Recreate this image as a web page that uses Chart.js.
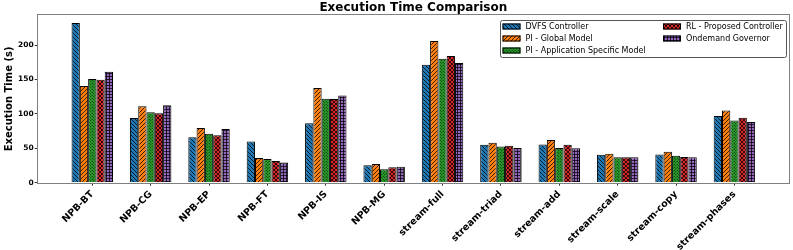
<!DOCTYPE html>
<html>
<head>
<meta charset="utf-8">
<title>Execution Time Comparison</title>
<script src="https://cdn.jsdelivr.net/npm/chart.js@4.4.1/dist/chart.umd.min.js"></script>
<style>
  html, body { margin: 0; padding: 0; background: #fff; }
  #wrap { width: 793px; height: 250px; }
</style>
</head>
<body>
<div id="wrap"><canvas id="execChart" width="793" height="250"></canvas></div>
<script>
// --- Data ---
const categories = ['NPB-BT', 'NPB-CG', 'NPB-EP', 'NPB-FT', 'NPB-IS', 'NPB-MG',
    'stream-full', 'stream-triad', 'stream-add', 'stream-scale', 'stream-copy', 'stream-phases'];
const seriesNames = ['DVFS Controller', 'PI - Global Model', 'PI - Application Specific Model',
    'RL - Proposed Controller', 'Ondemand Governor'];
const dvfs     = [232, 94, 66, 60, 86.5, 25.5, 171.5, 55, 55.5, 40.5, 41, 97];
const piGlobal = [140.5, 111, 79.5, 36, 137.5, 27, 206, 58, 62, 42, 45, 105];
const piApp    = [150.5, 102.5, 71, 34.5, 122, 19.5, 180, 52.5, 50.5, 37, 39, 90.5];
const rl       = [149.5, 101, 69, 31.5, 121.5, 22.5, 184, 53.5, 55, 37, 37.5, 94.5];
const ondemand = [161, 112.5, 78, 29.5, 126.5, 23, 174, 50.5, 50, 37, 37, 88];
const yTicks = [0, 50, 100, 150, 200];

const colors = ['#1f77b4', '#ff7f0e', '#2ca02c', '#d62728', '#9467bd'];
const hatches = ['back', 'fwd', 'dots', 'cross', 'grid'];

// --- Hatch patterns ---
function makePattern(color, kind) {
    const s = kind === 'dots' || kind === 'grid' ? 3 : 4;
    const c = document.createElement('canvas');
    c.width = s; c.height = s;
    const g = c.getContext('2d');
    g.fillStyle = color;
    g.fillRect(0, 0, s, s);
    g.strokeStyle = '#000';
    g.fillStyle = '#000';
    g.lineWidth = 0.75;
    const line = (x1, y1, x2, y2) => { g.beginPath(); g.moveTo(x1, y1); g.lineTo(x2, y2); g.stroke(); };
    if (kind === 'back' || kind === 'cross') {
        line(-1, -1, s + 1, s + 1);
        line(-1, s - 1, 1, s + 1);
        line(s - 1, -1, s + 1, 1);
    }
    if (kind === 'fwd' || kind === 'cross') {
        line(-1, s + 1, s + 1, -1);
        line(-1, 1, 1, -1);
        line(s - 1, s + 1, s + 1, s - 1);
    }
    if (kind === 'dots') {
        g.beginPath(); g.arc(0.75, 0.75, 0.55, 0, Math.PI * 2); g.fill();
        g.beginPath(); g.arc(2.25, 2.25, 0.55, 0, Math.PI * 2); g.fill();
    }
    if (kind === 'grid') {
        line(0, 1.5, s, 1.5);
        line(1.5, 0, 1.5, s);
    }
    return g.createPattern(c, 'repeat');
}

document.addEventListener('DOMContentLoaded', () => {
    const patterns = colors.map((col, i) => makePattern(col, hatches[i]));
    const values = [dvfs, piGlobal, piApp, rl, ondemand];

    // --- Title drawn over the plot area ---
    const titlePlugin = {
        id: 'plotTitle',
        afterDraw(chart) {
            const { ctx, chartArea } = chart;
            ctx.save();
            ctx.font = 'bold 12px "DejaVu Sans"';
            ctx.fillStyle = '#000';
            ctx.textAlign = 'center';
            ctx.textBaseline = 'middle';
            ctx.fillText('Execution Time Comparison', (chartArea.left + chartArea.right) / 2, 8);
            ctx.restore();
        }
    };

    // --- Frame round the plot ---
    const framePlugin = {
        id: 'frame',
        afterDatasetsDraw(chart) {
            const { ctx, chartArea: a } = chart;
            ctx.save();
            ctx.strokeStyle = '#808080';
            ctx.lineWidth = 1;
            ctx.strokeRect(Math.round(a.left) - 0.5, Math.round(a.top) - 0.5,
                Math.round(a.right - a.left) + 1, Math.round(a.bottom - a.top) + 1);
            ctx.restore();
        }
    };

    // --- Two column legend ---
    const legendPlugin = {
        id: 'boxLegend',
        afterDraw(chart) {
            const { ctx, chartArea: a } = chart;
            const w = 286, h = 37;
            const x = a.right - 3 - w, y = a.top + 5;
            ctx.save();
            ctx.fillStyle = 'rgba(255,255,255,0.9)';
            ctx.strokeStyle = '#555';
            ctx.lineWidth = 1;
            ctx.beginPath();
            ctx.roundRect(x + 0.5, y + 0.5, w, h, 2);
            ctx.fill();
            ctx.stroke();
            ctx.font = '8px "DejaVu Sans"';
            ctx.textBaseline = 'middle';
            ctx.textAlign = 'left';
            const colX = [x + 2.5, x + 163];
            chart.data.datasets.forEach((ds, i) => {
                const px = colX[Math.floor(i / 3)];
                const cy = y + 6.5 + (i % 3) * 12;
                ctx.fillStyle = ds.backgroundColor;
                ctx.fillRect(px, cy - 3, 18, 6);
                ctx.strokeStyle = '#000';
                ctx.strokeRect(px + 0.5, cy - 2.5, 17, 5);
                ctx.fillStyle = '#000';
                ctx.fillText(ds.label, px + 23, cy);
            });
            ctx.restore();
        }
    };

    const ctx = document.getElementById('execChart');
    new Chart(ctx, {
        type: 'bar',
        data: {
            datasets: seriesNames.map((name, i) => ({
                label: name,
                data: values[i].map((v, k) => ({ x: k, y: v })),
                backgroundColor: patterns[i],
                borderColor: '#000',
                borderWidth: 1,
                categoryPercentage: 0.71,
                barPercentage: 1
            }))
        },
        options: {
            responsive: false,
            animation: false,
            layout: { padding: { top: 15, right: 4, left: 0, bottom: 0 } },
            plugins: {
                legend: { display: false },
                title: { display: false },
                tooltip: { enabled: false }
            },
            scales: {
                x: {
                    type: 'linear',
                    bounds: 'data',
                    offset: false,
                    min: -0.935,
                    max: 11.935,
                    afterBuildTicks: (scale) => { scale.ticks = categories.map((c, i) => ({ value: i })); },
                    afterFit: (scale) => { scale.height = 67.3; },
                    grid: { offset: false, drawOnChartArea: false, drawTicks: true, tickLength: 3, color: '#333' },
                    border: { display: false },
                    ticks: {
                        autoSkip: false,
                        minRotation: 45,
                        maxRotation: 45,
                        padding: 3,
                        color: '#000',
                        font: { family: 'DejaVu Sans', size: 9.5, weight: 'bold' },
                        callback: (v) => categories[v] ?? ''
                    }
                },
                y: {
                    type: 'linear',
                    bounds: 'data',
                    min: 0,
                    max: Math.max(...dvfs) * 1.05,
                    afterBuildTicks: (scale) => { scale.ticks = yTicks.map(v => ({ value: v })); },
                    afterFit: (scale) => { scale.width = 37.7; },
                    grid: { drawOnChartArea: false, drawTicks: true, tickLength: 3, color: '#333' },
                    border: { display: false },
                    ticks: {
                        padding: 1,
                        color: '#000',
                        font: { family: 'DejaVu Sans', size: 7.5, weight: 'bold' }
                    },
                    title: {
                        display: true,
                        text: 'Execution Time (s)',
                        color: '#000',
                        padding: { top: 3, bottom: 0 },
                        font: { family: 'DejaVu Sans', size: 10, weight: 'bold' }
                    }
                }
            }
        },
        plugins: [framePlugin, legendPlugin, titlePlugin]
    });
});
</script>
</body>
</html>
